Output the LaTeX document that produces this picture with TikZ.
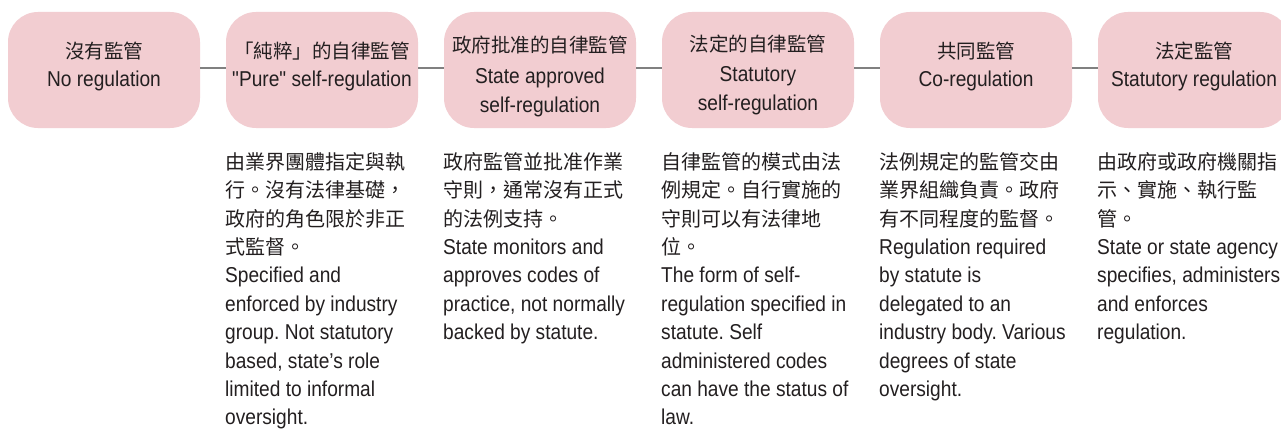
\documentclass[tikz,border=0pt]{standalone}
\usepackage{fontspec}
\setmainfont[FakeStretch=0.89,Ligatures=TeXOff]{Liberation Sans}
\newfontfamily\cjk{Noto Sans CJK TC}
\newcommand\zh[1]{{\cjk\fontsize{20}{28.4}\selectfont #1}}
\newcommand\zht[1]{{\cjk\fontsize{19.5}{28.5}\selectfont #1}}
\definecolor{boxpink}{HTML}{F2CDD1}
\definecolor{txt}{HTML}{231F20}
\definecolor{linegray}{HTML}{808080}
\frenchspacing
\begin{document}
\begin{tikzpicture}[x=1pt,y=-1pt,
  stage/.style={fill=boxpink, rounded corners=30pt, minimum width=192pt,
    minimum height=116pt, inner sep=0pt},
  title/.style={anchor=north, inner sep=0pt, align=center, text=txt,
    font=\fontsize{21.5}{28.5}\selectfont},
  desc/.style={anchor=north west, inner sep=0pt, align=left, text=txt,
    font=\fontsize{21.5}{28.4}\selectfont},
  link/.style={draw=linegray, line width=1.5pt}]
\useasboundingbox[fill=white] (0,0) rectangle (1281,433);

\node[stage] (b1) at (104,70) {};
\node[stage] (b2) at (322,70) {};
\node[stage] (b3) at (540,70) {};
\node[stage] (b4) at (758,70) {};
\node[stage] (b5) at (976,70) {};
\node[stage] (b6) at (1194,70) {};

\node[title] (t1) at ([yshift=30pt]b1.center) {\rule{0pt}{18pt}\zht{沒有監管}\\No regulation};
\node[title] (t2) at ([yshift=30pt]b2.center) {\rule{0pt}{18pt}\zht{「純粹」的自律監管}\\"Pure" self-regulation};
\node[title] (t3) at ([yshift=36pt]b3.center) {\rule{0pt}{18pt}\zht{政府批准的自律監管}\\[3pt]State approved\\self-regulation};
\node[title] (t4) at ([yshift=37pt]b4.center) {\rule{0pt}{18pt}\zht{法定的自律監管}\\[2pt]Statutory\\self-regulation};
\node[title] (t5) at ([yshift=30pt]b5.center) {\rule{0pt}{18pt}\zht{共同監管}\\Co-regulation};
\node[title] (t6) at ([yshift=30pt]b6.center) {\rule{0pt}{18pt}\zht{法定監管}\\Statutory regulation};

\foreach \a/\b in {b1/b2,b2/b3,b3/b4,b4/b5,b5/b6}
  \draw[link] ([yshift=2pt]\a.east) -- ([yshift=2pt]\b.west);

\node[desc] (d2) at (225,151) {\rule{0pt}{18pt}\zh{由業界團體指定與執}\\\zh{行。沒有法律基礎，}\\\zh{政府的角色限於非正}\\\zh{式監督。}\\Specified and\\enforced by industry\\group. Not statutory\\based, state’s role\\limited to informal\\oversight.};
\node[desc] (d3) at (443,151) {\rule{0pt}{18pt}\zh{政府監管並批准作業}\\\zh{守則，通常沒有正式}\\\zh{的法例支持。}\\State monitors and\\approves codes of\\practice, not normally\\backed by statute.};
\node[desc] (d4) at (661,151) {\rule{0pt}{18pt}\zh{自律監管的模式由法}\\\zh{例規定。自行實施的}\\\zh{守則可以有法律地}\\\zh{位。}\\The form of self-\\regulation specified in\\statute. Self\\administered codes\\can have the status of\\law.};
\node[desc] (d5) at (879,151) {\rule{0pt}{18pt}\zh{法例規定的監管交由}\\\zh{業界組織負責。政府}\\\zh{有不同程度的監督。}\\Regulation required\\by statute is\\delegated to an\\industry body. Various\\degrees of state\\oversight.};
\node[desc] (d6) at (1097,151) {\rule{0pt}{18pt}\zh{由政府或政府機關指}\\\zh{示、實施、執行監}\\\zh{管。}\\State or state agency\\specifies, administers\\and enforces\\regulation.};
\end{tikzpicture}
\end{document}
